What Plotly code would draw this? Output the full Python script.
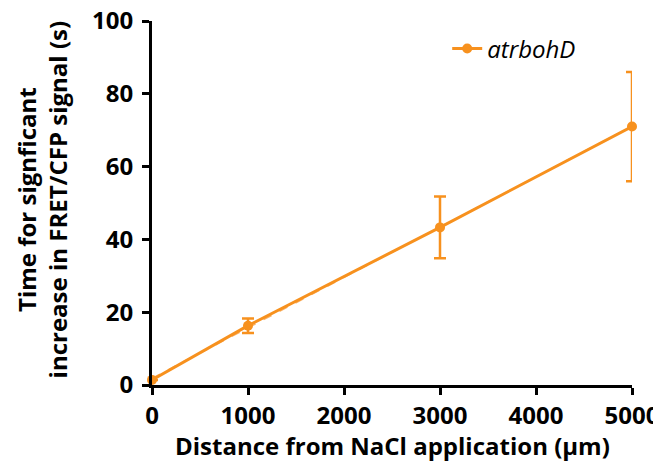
import numpy as np
import plotly.graph_objects as go

distance = [0, 1000, 3000, 5000]
time_s = [1.4, 16.3, 43.3, 71.0]
err = [0.0, 2.0, 8.5, 15.0]
series_name = "atrbohD"
x_ticks = [0, 1000, 2000, 3000, 4000, 5000]
y_ticks = [0, 20, 40, 60, 80, 100]
x_title = "Distance from NaCl application (μm)"
y_title = "Time for signficant<br>increase in FRET/CFP signal (s)"

orange = "#F7911E"
font = "Open Sans"

slope, intercept = np.polyfit(distance, time_s, 1)
fit_x = [distance[0], distance[-1]]
fit_y = [slope * v + intercept for v in fit_x]

fig = go.Figure()
fig.add_trace(go.Scatter(x=fit_x, y=fit_y, mode="lines",
                         line=dict(color="#F8B36A", width=1.5, dash="dash"),
                         showlegend=False, hoverinfo="skip"))
fig.add_trace(go.Scatter(
    x=distance, y=time_s, mode="lines+markers", name=series_name,
    line=dict(color=orange, width=3),
    marker=dict(color=orange, size=10),
    error_y=dict(type="data", array=err, visible=True, color=orange,
                 thickness=2.5, width=6),
    cliponaxis=False,
))

axis_common = dict(
    showline=True, linecolor="black", linewidth=3,
    ticks="outside", ticklen=7, tickwidth=3, tickcolor="black",
    showgrid=False, zeroline=False, automargin=False,
    ticklabeloverflow="allow",
    tickfont=dict(family=font, size=24, weight="bold", color="black"),
)

fig.update_layout(
    width=653, height=453,
    margin=dict(l=144, r=29, t=13, b=76),
    paper_bgcolor="white", plot_bgcolor="white",
    font=dict(family=font, size=24, color="black"),
    showlegend=True,
    legend=dict(x=0.615, y=0.985, xanchor="left", yanchor="top",
                bgcolor="rgba(0,0,0,0)", itemwidth=30,
                font=dict(family=font, size=24, style="italic", color="black")),
    xaxis=dict(range=[0, 5000], tickvals=x_ticks, **axis_common),
    yaxis=dict(range=[0, 100], tickvals=y_ticks, ticklabelstandoff=4, **axis_common),
    annotations=[
        dict(text=x_title, xref="paper", yref="paper", x=0.5, y=-0.165,
             xanchor="center", yanchor="middle", showarrow=False,
             font=dict(family=font, size=24, weight="bold", color="black")),
        dict(text=y_title, xref="paper", yref="paper", x=-0.229, y=0.51,
             xanchor="center", yanchor="middle", showarrow=False, textangle=-90,
             font=dict(family=font, size=24, weight="bold", color="black")),
    ],
)

fig.write_html("out.html")
